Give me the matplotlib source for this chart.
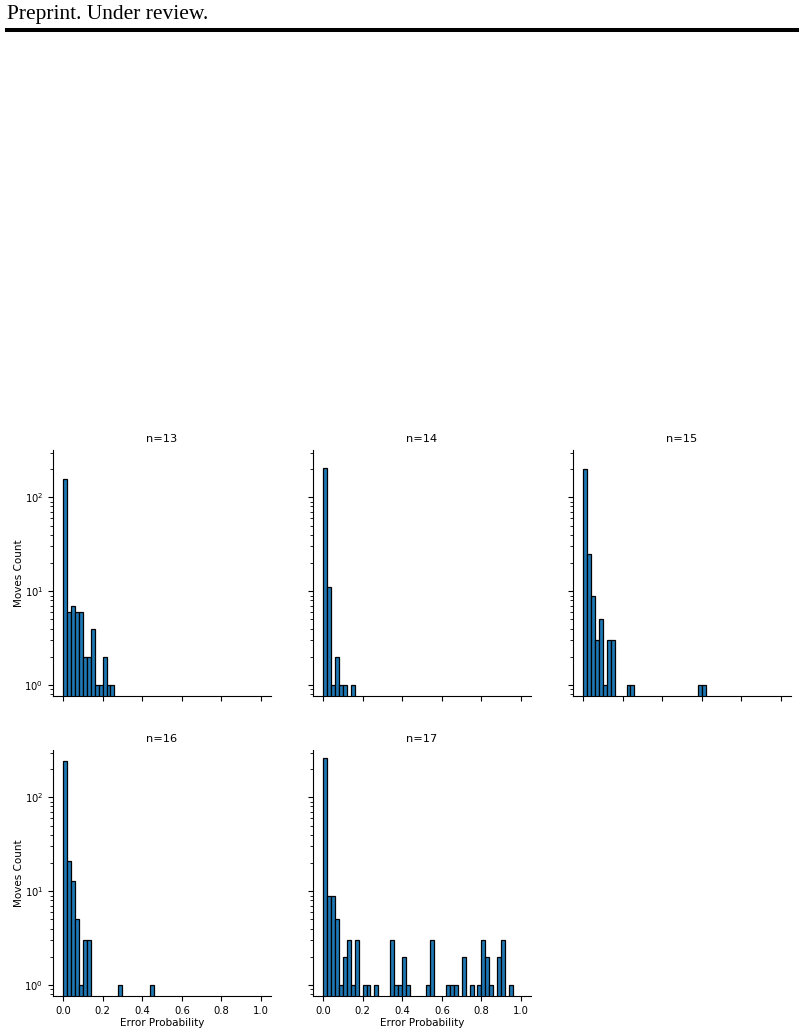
import numpy as np
import matplotlib
matplotlib.use("Agg")
import matplotlib.pyplot as plt

# ---- data: bin starts (width 0.02) and counts per panel ----
bin_width = 0.02
titles = ["n=13", "n=14", "n=15", "n=16", "n=17"]

n13_bins = [0.00, 0.02, 0.04, 0.06, 0.08, 0.10, 0.12, 0.14, 0.16, 0.18, 0.20, 0.22, 0.24]
n13_counts = [157, 6, 7, 6, 6, 2, 2, 4, 1, 1, 2, 1, 1]

n14_bins = [0.00, 0.02, 0.04, 0.06, 0.08, 0.10, 0.14]
n14_counts = [205, 11, 1, 2, 1, 1, 1]

n15_bins = [0.00, 0.02, 0.04, 0.06, 0.08, 0.10, 0.12, 0.14, 0.22, 0.24, 0.58, 0.60]
n15_counts = [200, 25, 9, 3, 5, 1, 3, 3, 1, 1, 1, 1]

n16_bins = [0.00, 0.02, 0.04, 0.06, 0.08, 0.10, 0.12, 0.28, 0.44]
n16_counts = [245, 21, 13, 5, 1, 3, 3, 1, 1]

n17_bins = [0.00, 0.02, 0.04, 0.06, 0.08, 0.10, 0.12, 0.14, 0.16, 0.20, 0.22, 0.26,
            0.34, 0.36, 0.38, 0.40, 0.42, 0.52, 0.54, 0.62, 0.64, 0.66, 0.70, 0.74,
            0.78, 0.80, 0.82, 0.84, 0.88, 0.90, 0.94]
n17_counts = [261, 9, 9, 5, 1, 2, 3, 1, 3, 1, 1, 1,
              3, 1, 1, 2, 1, 1, 3, 1, 1, 1, 2, 1,
              1, 3, 2, 1, 2, 3, 1]

xticks = [0.0, 0.2, 0.4, 0.6, 0.8, 1.0]
panel_bins = [n13_bins, n14_bins, n15_bins, n16_bins, n17_bins]
panel_counts = [n13_counts, n14_counts, n15_counts, n16_counts, n17_counts]

W, H = 804, 1035
fig = plt.figure(figsize=(W / 100, H / 100), dpi=100)

# header
fig.text(7 / W, 1 - 14 / H, "Preprint. Under review.", family="Liberation Serif",
         fontsize=15.5, va="center", ha="left")
fig.add_artist(plt.Line2D([7 / W, 797 / W], [1 - 30 / H, 1 - 30 / H],
                          color="black", linewidth=2.9, transform=fig.transFigure))

lefts = [53, 313, 573]
tops = [450, 750]
aw, ah = 218, 246

for i in range(5):
    r, c = divmod(i, 3)
    l = lefts[c]
    t = tops[r]
    ax = fig.add_axes([l / W, 1 - (t + ah) / H, aw / W, ah / H])
    ax.bar(panel_bins[i], panel_counts[i], width=bin_width, align="edge",
           color="#1f77b4", edgecolor="black", linewidth=0.9)
    ax.set_yscale("log")
    ax.set_ylim(0.765, 320)
    ax.set_xlim(-0.05, 1.05)
    ax.set_xticks(xticks)
    ax.spines["top"].set_visible(False)
    ax.spines["right"].set_visible(False)
    ax.set_title(titles[i], fontsize=8.2, pad=6)
    ax.tick_params(labelsize=7.2, length=3.5, width=0.8)
    ax.tick_params(which="minor", length=2, width=0.6)
    if c == 0:
        ax.set_ylabel("Moves Count", fontsize=7.5, labelpad=0.5)
    else:
        ax.set_yticklabels([], minor=False)
        ax.set_yticklabels([], minor=True)
    if r == 1:
        ax.set_xlabel("Error Probability", fontsize=7.5, labelpad=2)
    else:
        ax.set_xticklabels([])

fig.savefig("out.png", dpi=100)
